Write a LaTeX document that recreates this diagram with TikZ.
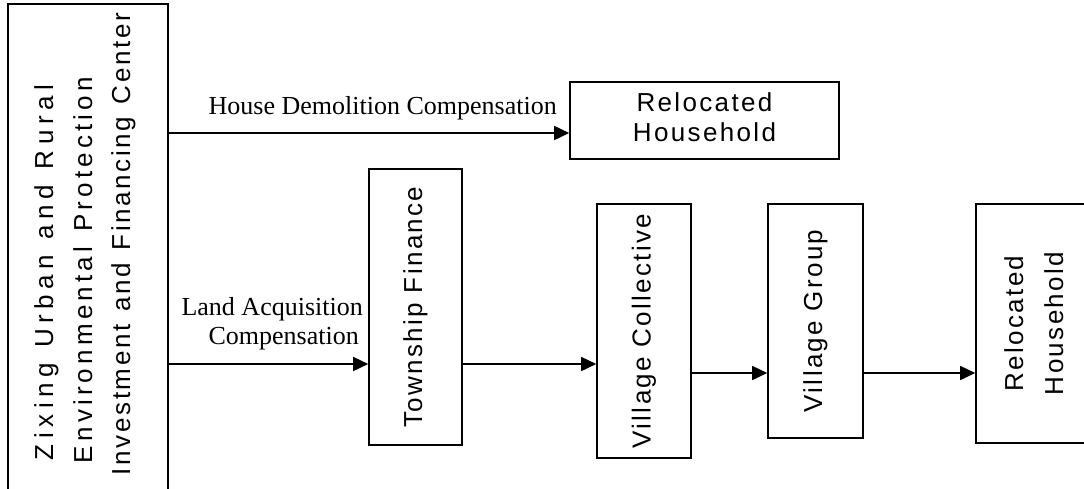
\documentclass[tikz,border=0pt]{standalone}
\usepackage{fontspec}
\setmainfont{Liberation Serif}
\newfontfamily\boxfont{Liberation Sans}[LetterSpace=9]
\newfontfamily\lineA{Liberation Sans}[LetterSpace=21]
\newfontfamily\lineB{Liberation Sans}[LetterSpace=16]
\newfontfamily\lineC{Liberation Sans}[LetterSpace=10]
\usetikzlibrary{arrows.meta}
\newcommand\twolines[2]{\begin{tabular}{@{}c@{}}#1\\#2\end{tabular}}
\begin{document}
\begin{tikzpicture}[x=1pt,y=-1pt,
  box/.style={draw, line width=1.6pt, inner sep=0pt, align=center,
    font=\boxfont\fontsize{26}{30}\selectfont},
  ltext/.style={inner sep=0pt},
  arr/.style={line width=1.6pt, -{Triangle[length=15pt,width=14pt]}},
  lbl/.style={inner sep=0pt, font=\fontsize{26}{30}\selectfont}]
\useasboundingbox (0,0) rectangle (1084,488);
% left box
\node[box, minimum width=160pt, minimum height=496pt] (center) at (88,252) {};
\node[ltext, rotate=90, anchor=base, font=\lineA\fontsize{26}{30}\selectfont] (c1) at (53,272.5) {\makebox[375pt][s]{Zixing Urban and Rural}};
\node[ltext, rotate=90, anchor=base, font=\lineB\fontsize{26}{30}\selectfont] (c2) at (92,270) {\makebox[386pt][s]{Environmental Protection}};
\node[ltext, rotate=90, anchor=base, font=\lineC\fontsize{26}{30}\selectfont] (c3) at (130,244) {\makebox[462pt][s]{Investment and Financing Center}};
% top box
\node[box, minimum width=269pt, minimum height=77pt] (rh1) at (704.5,120.5) {\raisebox{-6pt}{\twolines{Relocated}{Household}}};
% chain
\node[box, minimum width=93pt, minimum height=276pt] (tf) at (415.5,307) {\rotatebox{90}{Township Finance}};
\node[box, minimum width=94pt, minimum height=254pt] (vc) at (644,331) {\rotatebox{90}{Village Collective}};
\node[box, minimum width=95pt, minimum height=234pt] (vg) at (815.5,321) {\rotatebox{90}{Village Group}};
\node[box, minimum width=118pt, minimum height=239pt] (rh2) at (1035,323.5) {\fontsize{26}{40}\selectfont\rotatebox{90}{\twolines{Relocated}{Household}}};
% labels
\node[lbl, anchor=base east] (hdc) at (557,114) {House Demolition Compensation};
\node[lbl, anchor=base east] (lac1) at (363,315) {Land Acquisition};
\node[lbl, anchor=base east] (lac2) at (359,344) {Compensation};
% arrows
\draw[arr] (center.east |- 0,133) -- (rh1.west |- 0,133);
\draw[arr] (center.east |- 0,364) -- (tf.west |- 0,364);
\draw[arr] (tf.east |- 0,364) -- (vc.west |- 0,364);
\draw[arr] (vc.east |- 0,373) -- (vg.west |- 0,373);
\draw[arr] (vg.east |- 0,373) -- (rh2.west |- 0,373);
\end{tikzpicture}
\end{document}
